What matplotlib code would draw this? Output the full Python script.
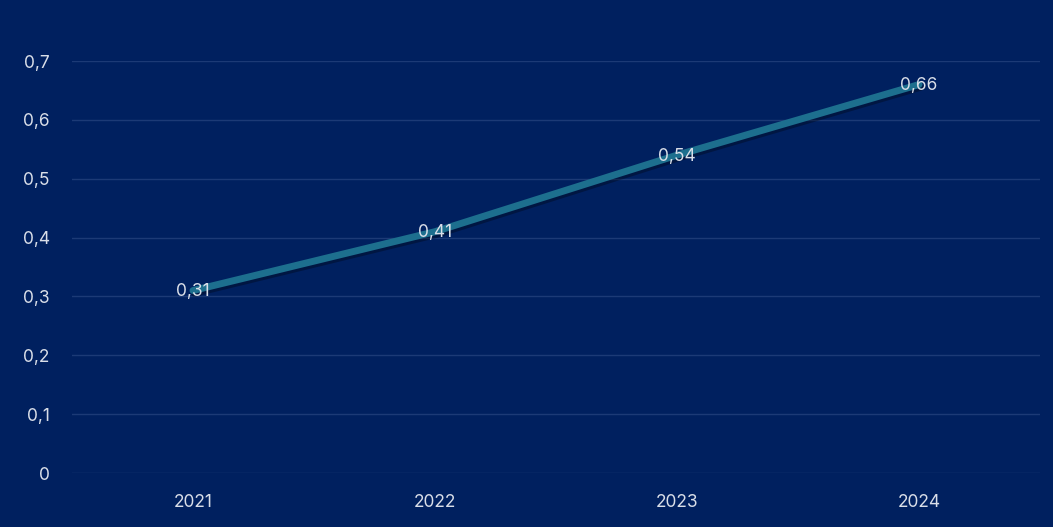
import matplotlib
matplotlib.use("Agg")
import matplotlib.pyplot as plt
import matplotlib.patheffects as pe

years = ["2021", "2022", "2023", "2024"]
values = [0.31, 0.41, 0.54, 0.66]
y_ticks = [0, 0.1, 0.2, 0.3, 0.4, 0.5, 0.6, 0.7]

bg = "#00205F"
grid_color = "#1C3A76"
line_color = "#1D6F8E"
text_color = "#D9DEE8"

plt.rcParams["font.family"] = ["Inter", "DejaVu Sans"]

fig = plt.figure(figsize=(10.53, 5.27), dpi=100, facecolor=bg)
ax = fig.add_axes([72 / 1053, 54 / 527, 968 / 1053, 412 / 527], facecolor=bg)

x = list(range(len(years)))
ax.plot(x, values, color=line_color, linewidth=5, solid_capstyle="round", clip_on=False,
        path_effects=[pe.SimpleLineShadow(offset=(1, -2), shadow_color="black", alpha=0.3),
                      pe.Normal()], zorder=3)

for xi, v in zip(x, values):
    ax.text(xi, v - 0.002, f"{v:.2f}".replace(".", ","), ha="center", va="center",
            fontsize=12.5, color=text_color, zorder=4)

ax.set_xlim(-0.5, len(years) - 0.5)
ax.set_ylim(0, 0.7)
ax.set_xticks(x)
ax.set_xticklabels(years)
ax.set_yticks(y_ticks)
ax.set_yticklabels([("%g" % t).replace(".", ",") for t in y_ticks])
ax.tick_params(colors=text_color, labelsize=12.5, length=0)
ax.tick_params(axis="y", pad=16)
ax.tick_params(axis="x", pad=15)
ax.grid(axis="y", color=grid_color, linewidth=1)
ax.set_axisbelow(True)
for s in ax.spines.values():
    s.set_visible(False)

fig.savefig("out.png", dpi=100, facecolor=bg)
